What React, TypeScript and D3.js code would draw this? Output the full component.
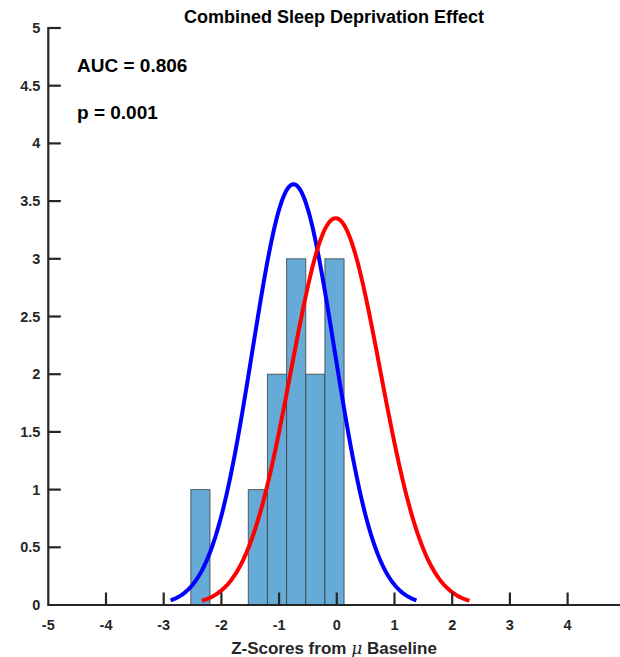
import React from "react";
import * as d3 from "d3";

const binEdges = [-2.53, -2.198, -1.866, -1.534, -1.202, -0.87, -0.538, -0.206, 0.126];
const binCounts = [1, 0, 0, 1, 2, 3, 2, 3];

const curveNames = ["sleepDeprived", "baseline"];
const curveColors = ["#0000ff", "#ff0000"];
const curveMeans = [-0.75, -0.02];
const curveSDs = [0.71, 0.773];
const curvePeaks = [3.646, 3.352];

const xTicks = [-5, -4, -3, -2, -1, 0, 1, 2, 3, 4];
const yTicks = [0, 0.5, 1, 1.5, 2, 2.5, 3, 3.5, 4, 4.5, 5];

const titleText = "Combined Sleep Deprivation Effect";
const aucText = "AUC = 0.806";
const pText = "p = 0.001";

const W = 620;
const H = 657;
const FONT = "'Liberation Sans', Arial, sans-serif";
const AX = "#262626";

export default function App() {
  const x = d3.scaleLinear().domain([-5, 5]).range([48.3, 625.3]);
  const y = d3.scaleLinear().domain([0, 5]).range([605, 28]);

  const bars = binCounts
    .map((c, i) => ({ x0: binEdges[i], x1: binEdges[i + 1], c }))
    .filter((b) => b.c > 0);

  const line = d3
    .line<[number, number]>()
    .x((d) => x(d[0]))
    .y((d) => y(d[1]))
    .curve(d3.curveLinear);

  const curves = curveNames.map((name, i) => {
    const mu = curveMeans[i];
    const sd = curveSDs[i];
    const pk = curvePeaks[i];
    const pts: [number, number][] = d3
      .range(0, 201)
      .map((k) => {
        const v = mu - 3 * sd + (6 * sd * k) / 200;
        return [v, pk * Math.exp(-((v - mu) ** 2) / (2 * sd * sd))];
      });
    return { name, color: curveColors[i], d: line(pts) || "" };
  });

  return (
    <svg
      width={W}
      height={H}
      style={{ display: "block", position: "absolute", left: 0, top: 0 }}
      fontFamily={FONT}
    >
      <rect width={W} height={H} fill="#ffffff" />
      {bars.map((b, i) => (
        <rect
          key={i}
          x={x(b.x0)}
          y={y(b.c)}
          width={x(b.x1) - x(b.x0)}
          height={y(0) - y(b.c)}
          fill="#66aad7"
          stroke="#3c3c3c"
          strokeOpacity={0.8}
          strokeWidth={1}
        />
      ))}
      {curves.map((c) => (
        <path
          key={c.name}
          d={c.d}
          fill="none"
          stroke={c.color}
          strokeWidth={4}
        />
      ))}
      {/* axes */}
      <line x1={x(-5)} x2={W} y1={y(0)} y2={y(0)} stroke={AX} strokeWidth={2.2} />
      <line x1={x(-5)} x2={x(-5)} y1={y(0) + 1} y2={y(5) - 1} stroke={AX} strokeWidth={2.2} />
      {xTicks.map((t) => (
        <g key={"x" + t}>
          {t !== -5 && (
            <line x1={x(t)} x2={x(t)} y1={y(0)} y2={y(0) - 12.5} stroke={AX} strokeWidth={2.2} />
          )}
          <text
            x={x(t)}
            y={y(0) + 24.5}
            textAnchor="middle"
            fontSize={14.5}
            fontWeight="bold"
            fill={AX}
          >
            {t}
          </text>
        </g>
      ))}
      {yTicks.map((t) => (
        <g key={"y" + t}>
          {t !== 0 && (
            <line x1={x(-5)} x2={x(-5) + 12.5} y1={y(t)} y2={y(t)} stroke={AX} strokeWidth={2.2} />
          )}
          <text
            x={x(-5) - 8}
            y={y(t) + 5}
            textAnchor="end"
            fontSize={14.5}
            fontWeight="bold"
            fill={AX}
          >
            {t}
          </text>
        </g>
      ))}
      <text x={334} y={22.7} textAnchor="middle" fontSize={18} fontWeight="bold" fill="#000">
        {titleText}
      </text>
      <text x={77} y={71.7} fontSize={19} fontWeight="bold" fill="#000">
        {aucText}
      </text>
      <text x={77} y={119.3} fontSize={19} fontWeight="bold" fill="#000">
        {pText}
      </text>
      <text x={334} y={654} textAnchor="middle" fontSize={17} fontWeight="bold" fill={AX}>
        <tspan>Z-Scores from </tspan>
        <tspan fontStyle="italic" fontWeight="normal" fontFamily="'DejaVu Serif', serif">μ</tspan>
        <tspan> Baseline</tspan>
      </text>
    </svg>
  );
}
